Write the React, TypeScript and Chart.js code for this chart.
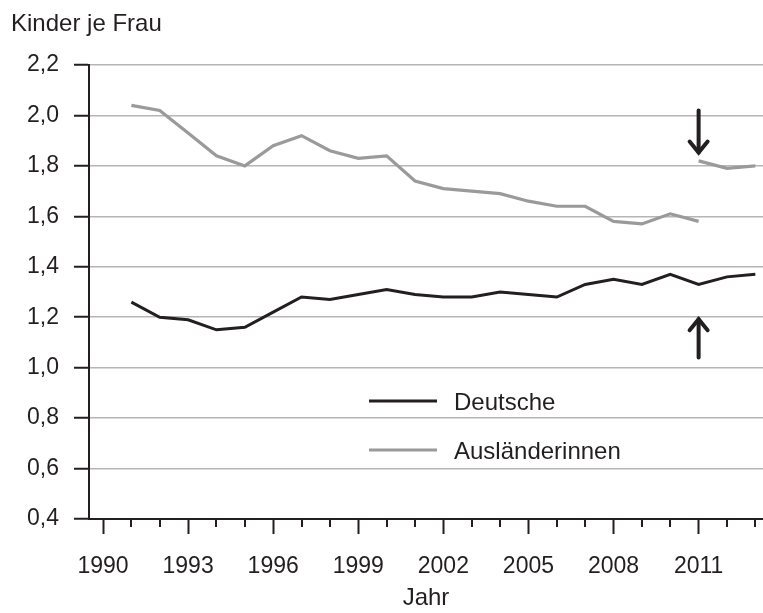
import React, { useEffect, useRef } from "react";
import { Chart, registerables } from "chart.js";

Chart.register(...registerables);

const years = [1991, 1992, 1993, 1994, 1995, 1996, 1997, 1998, 1999, 2000, 2001, 2002, 2003, 2004, 2005, 2006, 2007, 2008, 2009, 2010, 2011, 2012, 2013];
const deutsche = [1.26, 1.2, 1.19, 1.15, 1.16, 1.22, 1.28, 1.27, 1.29, 1.31, 1.29, 1.28, 1.28, 1.3, 1.29, 1.28, 1.33, 1.35, 1.33, 1.37, 1.33, 1.36, 1.37];
const auslYears = [1991, 1992, 1993, 1994, 1995, 1996, 1997, 1998, 1999, 2000, 2001, 2002, 2003, 2004, 2005, 2006, 2007, 2008, 2009, 2010, 2011];
const auslaenderinnen = [2.04, 2.02, 1.93, 1.84, 1.8, 1.88, 1.92, 1.86, 1.83, 1.84, 1.74, 1.71, 1.7, 1.69, 1.66, 1.64, 1.64, 1.58, 1.57, 1.61, 1.58];
const auslNewYears = [2011, 2012, 2013];
const auslaenderinnenNeu = [1.82, 1.79, 1.8];
const legendLabels = ["Deutsche", "Ausländerinnen"];
// arrows: [year, fromValue, toValue]
const arrows = [
  [2011, 2.02, 1.845],
  [2011, 1.04, 1.2],
];

const DARK = "#231f20";
const GREY = "#9a9a9a";
const FONT = "'Liberation Sans', Arial, sans-serif";

export default function App() {
  const ref = useRef<HTMLCanvasElement>(null);
  useEffect(() => {
    document.body.style.margin = "0";
    const canvas = ref.current!;
    const overlay = {
      id: "overlay",
      afterDraw(chart: any) {
        const c = chart.ctx;
        const xs = chart.scales.x;
        const ys = chart.scales.y;
        const area = chart.chartArea;
        c.save();
        // minor x ticks
        c.strokeStyle = DARK;
        c.lineWidth = 2;
        for (const t of xs.ticks) {
          if ((t.value - 1990) % 3 !== 0) {
            const px = Math.round(xs.getPixelForValue(t.value));
            c.beginPath();
            c.moveTo(px, area.bottom);
            c.lineTo(px, area.bottom + 8);
            c.stroke();
          }
        }
        // y axis title
        c.fillStyle = DARK;
        c.font = `24px ${FONT}`;
        c.textBaseline = "middle";
        c.textAlign = "left";
        c.fillText("Kinder je Frau", 11, 24);
        // legend
        const lx = 369, lw = 68, tx = 454;
        const legendY = [401, 450];
        const colors = [DARK, GREY];
        legendLabels.forEach((lab, i) => {
          c.strokeStyle = colors[i];
          c.lineWidth = 3;
          c.beginPath();
          c.moveTo(lx, legendY[i]);
          c.lineTo(lx + lw, legendY[i]);
          c.stroke();
          c.fillStyle = DARK;
          c.font = `24px ${FONT}`;
          c.fillText(lab, tx, legendY[i] + 2);
        });
        // arrows
        c.strokeStyle = DARK;
        c.lineWidth = 4;
        c.lineCap = "round";
        c.lineJoin = "miter";
        for (const [yr, from, to] of arrows) {
          const x = xs.getPixelForValue(yr);
          const y1 = ys.getPixelForValue(from);
          const y2 = ys.getPixelForValue(to);
          const dir = y2 > y1 ? 1 : -1;
          c.beginPath();
          c.moveTo(x, y1);
          c.lineTo(x, y2 - dir * 2);
          c.stroke();
          c.beginPath();
          c.moveTo(x - 9, y2 - dir * 13);
          c.lineTo(x, y2 - dir * 2);
          c.lineTo(x + 9, y2 - dir * 13);
          c.stroke();
        }
        c.restore();
      },
    };
    const chart = new Chart(canvas, {
      type: "line",
      data: {
        datasets: [
          {
            label: legendLabels[0],
            data: years.map((y, i) => ({ x: y, y: deutsche[i] })),
            borderColor: DARK,
            borderWidth: 3,
            pointRadius: 0,
            tension: 0,
          },
          {
            label: legendLabels[1],
            data: auslYears.map((y, i) => ({ x: y, y: auslaenderinnen[i] })),
            borderColor: GREY,
            borderWidth: 3.2,
            pointRadius: 0,
            tension: 0,
          },
          {
            label: legendLabels[1] + " (neu)",
            data: auslNewYears.map((y, i) => ({ x: y, y: auslaenderinnenNeu[i] })),
            borderColor: GREY,
            borderWidth: 3.2,
            pointRadius: 0,
            tension: 0,
          },
        ],
      },
      options: {
        responsive: false,
        animation: false,
        layout: { padding: { top: 65, left: 0, right: 0, bottom: 0 } },
        plugins: { legend: { display: false }, tooltip: { enabled: false }, title: { display: false } },
        scales: {
          x: {
            type: "linear",
            min: 1989.506,
            max: 2013.27,
            afterFit(scale: any) {
              scale.height = 94;
              scale.paddingLeft = 0;
              scale.paddingRight = 0;
            },
            border: { display: true, color: DARK, width: 2 },
            grid: {
              display: true,
              drawOnChartArea: false,
              drawTicks: true,
              tickLength: 15,
              tickWidth: 2,
              tickColor: (ctx: any) =>
                ctx.tick && (ctx.tick.value - 1990) % 3 === 0 ? DARK : "rgba(0,0,0,0)",
            },
            ticks: {
              stepSize: 1,
              autoSkip: false,
              maxRotation: 0,
              includeBounds: false,
              padding: 19,
              color: DARK,
              font: { family: FONT, size: 23 },
              callback: (v: any) => ((v - 1990) % 3 === 0 ? String(v) : ""),
            },
            title: {
              display: true,
              text: "Jahr",
              color: DARK,
              font: { family: FONT, size: 24 },
              padding: { top: 0, bottom: 0 },
            },
          },
          y: {
            min: 0.4,
            max: 2.2,
            afterFit(scale: any) {
              scale.width = 89;
            },
            border: { display: true, color: DARK, width: 2 },
            grid: {
              color: "#b5b5b5",
              lineWidth: 1.5,
              tickLength: 15,
              tickWidth: 2,
              tickColor: DARK,
            },
            ticks: {
              stepSize: 0.2,
              padding: 15,
              color: DARK,
              font: { family: FONT, size: 23 },
              callback: (v: any) => Number(v).toFixed(1).replace(".", ","),
            },
          },
        },
      },
      plugins: [overlay],
    });
    return () => chart.destroy();
  }, []);
  return <canvas ref={ref} width={763} height={613} style={{ display: "block" }} />;
}
